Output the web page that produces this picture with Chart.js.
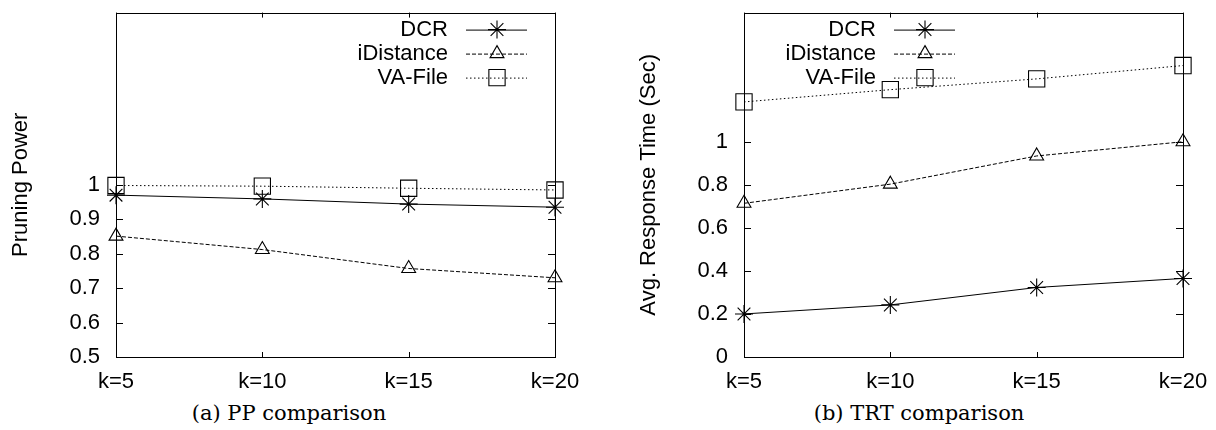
<!DOCTYPE html>
<html>
<head>
<meta charset="utf-8">
<script src="https://cdn.jsdelivr.net/npm/chart.js@4/dist/chart.umd.min.js"></script>
<style>
  html, body { margin: 0; padding: 0; background: #fff; }
  body { width: 1216px; height: 430px; position: relative; overflow: hidden; }
  .panel { position: absolute; top: 0; height: 400px; }
  #ppWrap { left: 0; width: 600px; }
  #trtWrap { left: 628px; width: 588px; }
  .caption {
    position: absolute; top: 402px; line-height: 22px;
    font-family: "DejaVu Serif", serif; font-size: 21px; color: #000;
    transform: translateX(-50%); white-space: nowrap;
  }
</style>
</head>
<body>
<div class="panel" id="ppWrap"><canvas id="pp"></canvas></div>
<div class="panel" id="trtWrap"><canvas id="trt"></canvas></div>
<div class="caption" style="left:289px">(a) PP comparison</div>
<div class="caption" style="left:919px">(b) TRT comparison</div>

<script>
// Query size k on the x axis
const categories = ['k=5', 'k=10', 'k=15', 'k=20'];
const seriesNames = ['DCR', 'iDistance', 'VA-File'];

// (a) Pruning power
const ppDCR = [0.970, 0.959, 0.944, 0.935];
const ppIDistance = [0.851, 0.812, 0.757, 0.730];
const ppVAFile = [0.998, 0.996, 0.990, 0.985];
const ppTicks = [0.5, 0.6, 0.7, 0.8, 0.9, 1];

// (b) Average response time in seconds
const trtDCR = [0.200, 0.242, 0.323, 0.365];
const trtIDistance = [0.714, 0.803, 0.934, 1.000];
const trtVAFile = [1.185, 1.242, 1.292, 1.354];
const trtTicks = [0, 0.2, 0.4, 0.6, 0.8, 1];

const FONT = '"Liberation Sans", Arial, sans-serif';

// Line and marker look for each series (solid / dashed / dotted)
const seriesStyle = [
  { pointStyle: 'star', radius: 9, dash: [] },
  { pointStyle: 'triangle', radius: 8, dash: [4, 2] },
  { pointStyle: 'rect', radius: 11.5, dash: [1.5, 2.5] }
];

function makeDatasets(values) {
  return values.map((data, i) => ({
    label: seriesNames[i],
    data: data,
    borderColor: '#000',
    borderWidth: 1,
    borderDash: seriesStyle[i].dash,
    pointStyle: seriesStyle[i].pointStyle,
    pointRadius: seriesStyle[i].radius,
    pointHoverRadius: seriesStyle[i].radius,
    pointBorderColor: '#000',
    pointBackgroundColor: 'rgba(0,0,0,0)',
    pointBorderWidth: 1.1,
    tension: 0,
    fill: false
  }));
}

// Box around the plot plus inward ticks on all four sides
const framePlugin = {
  id: 'frame',
  beforeDatasetsDraw(chart) {
    const { ctx, chartArea: a, scales } = chart;
    ctx.save();
    ctx.strokeStyle = '#000';
    ctx.lineWidth = 1;
    ctx.setLineDash([]);
    ctx.strokeRect(Math.round(a.left) + 0.5, Math.round(a.top) + 0.5,
                   Math.round(a.right - a.left), Math.round(a.bottom - a.top));
    ctx.beginPath();
    scales.y.ticks.forEach(t => {
      const y = Math.round(scales.y.getPixelForValue(t.value)) + 0.5;
      ctx.moveTo(a.left, y); ctx.lineTo(a.left + 7, y);
      ctx.moveTo(a.right, y); ctx.lineTo(a.right - 7, y);
    });
    categories.forEach((c, i) => {
      const x = Math.round(scales.x.getPixelForValue(i)) + 0.5;
      ctx.moveTo(x, a.bottom); ctx.lineTo(x, a.bottom - 5);
      ctx.moveTo(x, a.top); ctx.lineTo(x, a.top + 5);
    });
    ctx.stroke();
    ctx.restore();
  }
};

// Key inside the plot: name, then a sample of the line with its marker
const keyPlugin = {
  id: 'key',
  afterDatasetsDraw(chart, args, opts) {
    const { ctx, chartArea: a } = chart;
    ctx.save();
    chart.data.datasets.forEach((ds, i) => {
      const y = a.top + opts.rows[i];
      ctx.fillStyle = '#000';
      ctx.font = '22px ' + FONT;
      ctx.textAlign = 'right';
      ctx.textBaseline = 'middle';
      ctx.fillText(ds.label, a.left + opts.textRight, y);
      ctx.strokeStyle = '#000';
      ctx.lineWidth = 1;
      ctx.setLineDash(seriesStyle[i].dash);
      ctx.beginPath();
      ctx.moveTo(a.left + opts.lineStart, y + 0.5);
      ctx.lineTo(a.left + opts.lineEnd, y + 0.5);
      ctx.stroke();
      ctx.setLineDash([]);
      ctx.fillStyle = 'rgba(0,0,0,0)';
      ctx.lineWidth = 1.1;
      Chart.helpers.drawPoint(ctx, {
        pointStyle: seriesStyle[i].pointStyle,
        radius: seriesStyle[i].radius,
        rotation: 0,
        borderWidth: 1.1
      }, a.left + opts.marker, y);
    });
    ctx.restore();
  }
};

function makeChart(id, values, yMin, yMax, tickValues, yTitle, rightPad, key) {
  return new Chart(document.getElementById(id), {
    type: 'line',
    data: { labels: categories, datasets: makeDatasets(values) },
    plugins: [framePlugin, keyPlugin],
    options: {
      responsive: true,
      maintainAspectRatio: false,
      animation: false,
      devicePixelRatio: 1,
      layout: { padding: { left: 0, top: 10, right: rightPad, bottom: 0 } },
      plugins: {
        legend: { display: false },
        tooltip: { enabled: false },
        key: key
      },
      scales: {
        x: {
          type: 'category',
          offset: false,
          grid: { display: false, drawTicks: false },
          border: { display: false },
          ticks: {
            color: '#000', font: { family: FONT, size: 22 },
            padding: 12, maxRotation: 0, autoSkip: false
          },
          afterFit(s) { s.height = 43; s.paddingLeft = 0; s.paddingRight = 0; }
        },
        y: {
          min: yMin,
          max: yMax,
          grid: { display: false, drawTicks: false },
          border: { display: false },
          afterBuildTicks(s) { s.ticks = tickValues.map(v => ({ value: v })); },
          ticks: {
            color: '#000', font: { family: FONT, size: 22 }, padding: 16,
            callback: v => String(v)
          },
          title: {
            display: true, text: yTitle, color: '#000',
            font: { family: FONT, size: 22 },
            padding: { top: 8, bottom: 0 }
          },
          afterFit(s) { s.width = 116; s.paddingTop = 0; s.paddingBottom = 0; }
        }
      }
    }
  });
}

makeChart('pp', [ppDCR, ppIDistance, ppVAFile], 0.5, 1.5, ppTicks,
  'Pruning Power', 45,
  { textRight: 332, lineStart: 350, lineEnd: 411, marker: 381, rows: [17, 41, 65] });

makeChart('trt', [trtDCR, trtIDistance, trtVAFile], 0, 1.6, trtTicks,
  'Avg. Response Time (Sec)', 33,
  { textRight: 132, lineStart: 150, lineEnd: 211, marker: 181, rows: [17, 41, 65] });
</script>
</body>
</html>
